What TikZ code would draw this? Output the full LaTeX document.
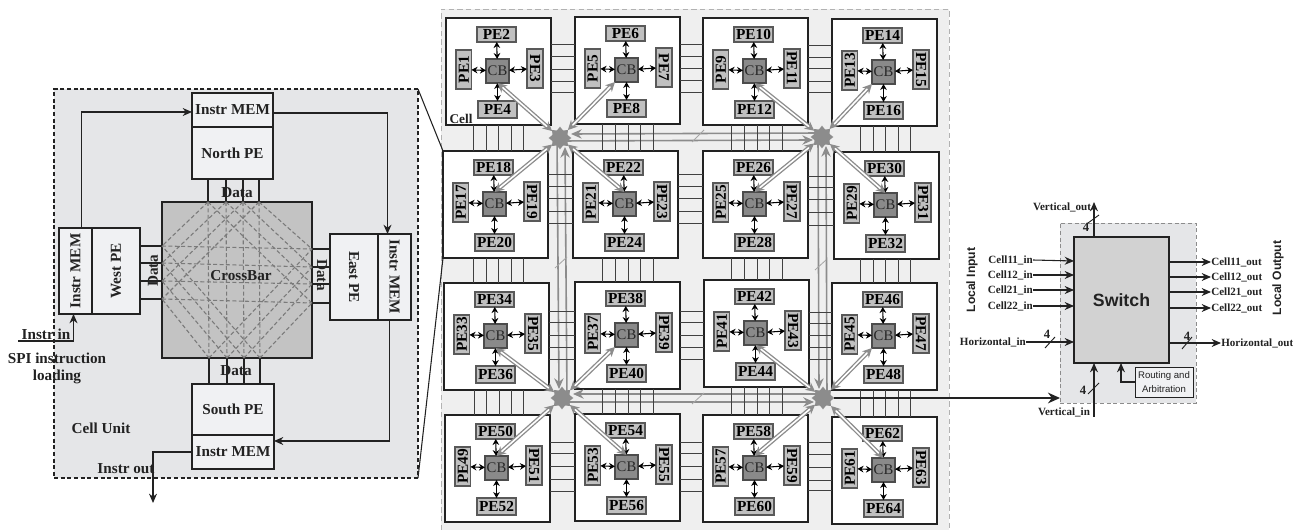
\documentclass[tikz,border=0pt]{standalone}
\usepackage{graphicx}
\usepackage{fontspec}
\setmainfont{Liberation Serif}
\setsansfont{Liberation Sans}
\usetikzlibrary{arrows.meta,shapes.geometric}
\definecolor{ink}{HTML}{222222}
\definecolor{panelA}{HTML}{E5E6E8}
\definecolor{panelB}{HTML}{EFEFEF}
\definecolor{boxA}{HTML}{F0F1F3}
\definecolor{xbar}{HTML}{C3C3C3}
\definecolor{swbox}{HTML}{D2D2D2}
\definecolor{pegray}{HTML}{C0C0C0}
\definecolor{cbgray}{HTML}{8A8A8A}
\definecolor{busgray}{HTML}{8C8C8C}
\newcommand{\pxbox}[7][]{%
  \pgfmathsetmacro\bxw{((#5)-(#3))*0.75}\pgfmathsetmacro\bxh{((#6)-(#4))*0.75}%
  \node[minimum width=\bxw pt,minimum height=\bxh pt,inner sep=0pt,outer sep=0pt,#1] (#2) at ({((#3)+(#5))/2},{((#4)+(#6))/2}) {#7};}
\newcommand{\upr}[1]{\rotatebox{90}{#1}}
\newcommand{\dnr}[1]{\rotatebox{-90}{#1}}
\tikzset{
  bigbox/.style={draw=ink,line width=.8pt,fill=boxA,font=\fontsize{11.4}{13}\selectfont\bfseries,text=ink},
  biglabel/.style={font=\fontsize{11.4}{13}\selectfont\bfseries,text=ink,inner sep=0pt},
  smalllabel/.style={font=\fontsize{8.3}{10}\selectfont\bfseries,text=ink,inner sep=0pt},
  sanslabel/.style={font=\fontsize{9.1}{11}\selectfont\sffamily\bfseries,text=ink,inner sep=0pt},
  arr/.style={draw=ink,line width=.8pt,-{Stealth[length=7pt,width=6pt]}},
  wire/.style={draw=ink,line width=.9pt},
  xdash/.style={draw=black!52,line width=.8pt,dash pattern=on 3pt off 1.8pt},
  cellbox/.style={draw=ink,line width=.8pt,fill=white,minimum width=78.75pt,minimum height=80.25pt,inner sep=0pt,outer sep=0pt,anchor=north west},
  pebox/.style={draw=black!65,line width=.8pt,fill=pegray,inner sep=0pt,outer sep=0pt,text=black,font=\fontsize{11.5}{13}\selectfont\bfseries},
  cbbox/.style={draw=black!70,line width=.8pt,fill=cbgray,inner sep=0pt,outer sep=0pt,text=black!85,font=\fontsize{11}{13}\selectfont},
  pearrow/.style={draw=black,line width=.8pt,{Stealth[length=4.5pt,width=5pt]}-{Stealth[length=4.5pt,width=5pt]}},
  cellwire/.style={draw=black!75,line width=.75pt},
  hubnode/.style={star,star points=8,star point ratio=1.4,fill=busgray,draw=none,minimum size=17pt,inner sep=0pt,outer sep=0pt},
  diag/.style={draw=busgray,line width=1pt,double=white,double distance=1.2pt,{Stealth[length=7pt,width=7pt]}-{Stealth[length=7pt,width=7pt]}},
  bus/.style={draw=busgray,line width=1.2pt,-{Stealth[length=8pt,width=7pt]}},
  busslash/.style={draw=black!35,line width=.6pt},
  slashmark/.style={draw=ink,line width=.7pt}
}
\begin{document}
\begin{tikzpicture}[x=0.75pt,y=-0.75pt]
\path[use as bounding box] (0,0) rectangle (1293,530);
% ---------- outer mesh panel
\pxbox[fill=panelB]{outerpanel}{441}{9}{949}{530}{}
\draw[draw=black!30,line width=.7pt,dash pattern=on 4pt off 2.5pt] (outerpanel.south west) -- (outerpanel.north west) -- (outerpanel.north east) -- (outerpanel.south east);
% ---------- cells
\foreach \k/\cx/\cy in {0/446/18,1/575/17,2/703/18,3/832/19,
                        4/443/151,5/573/151,6/703/151,7/834/152,
                        8/444/283,9/575/282,10/704/280,11/832/283,
                        12/445/415,13/575/414,14/703/415,15/832/417}{
  \pgfmathtruncatemacro\pa{4*\k+1}\pgfmathtruncatemacro\pb{4*\k+2}
  \pgfmathtruncatemacro\pc{4*\k+3}\pgfmathtruncatemacro\pd{4*\k+4}
  \node[cellbox] (c\k) at (\cx,\cy) {};
  \pxbox[cbbox]{cb\k}{\cx+40}{\cy+41}{\cx+63}{\cy+65}{CB}
  \pxbox[pebox]{pe\pa}{\cx+10}{\cy+32}{\cx+25.5}{\cy+71}{\upr{PE\pa}}
  \pxbox[pebox]{pe\pb}{\cx+31}{\cy+9}{\cx+70}{\cy+24}{PE\pb}
  \pxbox[pebox]{pe\pc}{\cx+81}{\cy+31}{\cx+97}{\cy+70}{\dnr{PE\pc}}
  \pxbox[pebox]{pe\pd}{\cx+32}{\cy+83}{\cx+71}{\cy+100}{PE\pd}
  \draw[pearrow] (cb\k) -- (pe\pa);
  \draw[pearrow] (cb\k) -- (pe\pb);
  \draw[pearrow] (cb\k) -- (pe\pc);
  \draw[pearrow] (cb\k) -- (pe\pd);
}
\node[font=\fontsize{10}{12}\selectfont\bfseries,text=ink,inner sep=0pt] (celllabel) at (461,119) {Cell};
% ---------- hubs and buses
\node[hubnode] (hubA) at (560,138) {};
\node[hubnode] (hubB) at (822,137) {};
\node[hubnode] (hubC) at (562,398) {};
\node[hubnode] (hubD) at (823,398) {};
\draw[bus] ([shift={(0,-4)}]hubB.center) -- ([shift={(11,-4)}]hubA.center);
\draw[bus] ([shift={(0,3)}]hubA.center) -- ([shift={(-9,3)}]hubB.center);
\draw[bus] ([shift={(0,-4)}]hubD.center) -- ([shift={(11,-4)}]hubC.center);
\draw[bus] ([shift={(0,4)}]hubC.center) -- ([shift={(-9,4)}]hubD.center);
\draw[bus] ([shift={(-3,0)}]hubA.center) -- ([shift={(-3,-9)}]hubC.center);
\draw[bus] ([shift={(5,0)}]hubC.center) -- ([shift={(5,9)}]hubA.center);
\draw[bus] ([shift={(-4,0)}]hubB.center) -- ([shift={(-4,-9)}]hubD.center);
\draw[bus] ([shift={(4,0)}]hubD.center) -- ([shift={(4,9)}]hubB.center);
\coordinate (sl1a) at (692,142); \coordinate (sl1b) at (704,130);
\coordinate (sl2a) at (692,404); \coordinate (sl2b) at (704,393);
\coordinate (sl3a) at (555,268); \coordinate (sl3b) at (567,257);
\coordinate (sl4a) at (815,270); \coordinate (sl4b) at (826,260);
\draw[busslash] (sl1a) -- (sl1b);
\draw[busslash] (sl2a) -- (sl2b);
\draw[busslash] (sl3a) -- (sl3b);
\draw[busslash] (sl4a) -- (sl4b);
% ---------- wire bundles between cells: horizontal
\foreach \a/\b/\ya/\yb/\yc/\yd/\ye in {
  0/1/45/57/70/82/93, 1/2/45/57/69/81/93, 2/3/46/58/69/82/93,
  4/5/175/187/199/212/224, 5/6/175/187/199/212/224, 6/7/177/188/200/213/226,
  8/9/312/323/336/348/360, 9/10/312/323/336/348/360, 10/11/313/324/336/348/360,
  12/13/443/454/467/480/492, 13/14/443/454/467/480/492, 14/15/443/455/468/481/491}{
  \foreach \yy in {\ya,\yb,\yc,\yd,\ye}{
    \draw[cellwire] (c\a.east |- 0,\yy) -- (c\b.west |- 0,\yy);
  }
}
% ---------- wire bundles between cells: vertical
\foreach \a/\b/\xa/\xb/\xc/\xd/\xe in {
  0/4/473/486/498/511/523, 1/5/602/615/628/640/653, 2/6/731/744/757/769/782, 3/7/860/873/885/898/910,
  4/8/473/486/498/511/523, 5/9/602/615/628/640/653, 6/10/731/744/757/769/782, 7/11/860/873/885/898/910,
  8/12/474/486/499/511/523, 9/13/602/615/628/640/653, 10/14/731/744/757/769/782, 11/15/860/873/885/898/910}{
  \foreach \xx in {\xa,\xb,\xc,\xd,\xe}{
    \draw[cellwire] (c\a.south -| \xx,0) -- (c\b.north -| \xx,0);
  }
}
% ---------- diagonals
\draw[diag] (hubA) -- (cb0.south);
\draw[diag] (hubA) -- (cb1.south west);
\draw[diag] (hubA) -- (cb4.north);
\draw[diag] (hubA) -- (cb5.north);
\draw[diag] (hubB) -- (cb2.south);
\draw[diag] (hubB) -- (cb3.south west);
\draw[diag] (hubB) -- (cb6.north);
\draw[diag] (hubB) -- (cb7.north);
\draw[diag] (hubC) -- (cb8.south);
\draw[diag] (hubC) -- (cb9.south west);
\draw[diag] (hubC) -- (cb12.north);
\draw[diag] (hubC) -- (cb13.north);
\draw[diag] (hubD) -- (cb10.south);
\draw[diag] (hubD) -- (cb11.south west);
\draw[diag] (hubD) -- (cb14.north);
\draw[diag] (hubD) -- (cb15.north);
% ---------- left panel
\pxbox[fill=panelA,draw=ink,line width=.8pt,dash pattern=on 3pt off 2pt]{cellpanel}{54}{89}{418}{478}{}
\draw[draw=ink,line width=.8pt] (cellpanel.north east) -- (c4.north west);
\draw[draw=ink,line width=.8pt] (cellpanel.south east) -- (c4.south west);
\pxbox[bigbox]{northmem}{192}{93}{273}{127}{Instr MEM}
\pxbox[bigbox]{northpe}{192}{127}{273}{179}{North PE}
\pxbox[bigbox]{westmem}{59}{228}{92}{314}{\upr{Instr MEM}}
\pxbox[bigbox]{westpe}{92}{228}{140}{314}{\upr{West PE}}
\pxbox[bigbox]{eastpe}{330}{234}{378}{320}{\dnr{East PE}}
\pxbox[bigbox]{eastmem}{378}{234}{411}{320}{\dnr{Instr MEM}}
\pxbox[bigbox]{southpe}{192}{384}{274}{435}{South PE}
\pxbox[bigbox]{southmem}{192}{435}{274}{469}{Instr MEM}
\pxbox[fill=xbar,draw=ink,line width=.8pt]{crossbar}{162}{202}{312}{358}{}
% crossbar ports
\foreach \i/\x in {1/208,2/226,3/243,4/259}{\coordinate (N\i) at (crossbar.north -| \x,0);}
\foreach \i/\x in {1/209,2/227,3/244,4/260}{\coordinate (S\i) at (crossbar.south -| \x,0);}
\foreach \i/\y in {1/246,2/263,3/281,4/299}{\coordinate (W\i) at (crossbar.west |- 0,\y);}
\foreach \i/\y in {1/249,2/267,3/284,4/303}{\coordinate (E\i) at (crossbar.east |- 0,\y);}
\foreach \i in {1,2,3,4}{
  \pgfmathtruncatemacro\j{5-\i}
  \draw[wire] (N\i) -- (N\i |- northpe.south);
  \draw[wire] (S\i) -- (S\i |- southpe.north);
  \draw[wire] (W\i) -- (W\i -| westpe.east);
  \draw[wire] (E\i) -- (E\i -| eastpe.west);
  \draw[xdash] (N\i) -- (S\i);
  \draw[xdash] (W\i) -- (E\i);
  \draw[xdash] (N\i) -- (W\i);
  \draw[xdash] (N\i) -- (E\j);
  \draw[xdash] (S\i) -- (W\j);
  \draw[xdash] (S\i) -- (E\i);
}
\node[biglabel] (crosslabel) at (241,276) {CrossBar};
\node[biglabel] (datan) at (237,193) {Data};
\node[biglabel] (datas) at (236,371) {Data};
\node[biglabel,rotate=90] (dataw) at (153,271) {Data};
\node[biglabel,rotate=-90] (datae) at (322,275) {Data};
\node[biglabel] (instrin) at (46,334) {Instr in};
\node[biglabel] (spi1) at (57,358) {SPI instruction};
\node[biglabel] (spi2) at (57,377) {loading};
\node[biglabel] (cellunit) at (101,428) {Cell Unit};
\node[biglabel] (instrout) at (126,469) {Instr out};
\coordinate (instrstart) at (18,341);
\coordinate (instrend) at (153,503);
\draw[arr] (instrstart) -| ([shift={(-2,0)}]westmem.south);
\draw[arr] ([shift={(6,0)}]westmem.north) |- ([shift={(0,2)}]northmem.west);
\draw[arr] ([shift={(0,3)}]northmem.east) -| ([shift={(-7,0)}]eastmem.north);
\draw[arr] ([shift={(-5,0)}]eastmem.south) |- ([shift={(0,-11)}]southmem.east);
\draw[arr,line width=1pt] ([shift={(0,0)}]southmem.west) -| (instrend);
% ---------- switch panel
\pxbox[fill=panelA,draw=black!45,line width=.7pt,dash pattern=on 3pt off 2pt]{swpanel}{1060}{223}{1196}{403}{}
\pxbox[fill=swbox,draw=ink,line width=.9pt,font=\fontsize{13.3}{15}\selectfont\sffamily\bfseries,text=ink]{switch}{1074}{237}{1169}{363}{Switch}
\pxbox[fill=boxA,draw=ink,line width=.7pt,align=center,font=\fontsize{7.2}{10}\selectfont\sffamily,text=ink]{routing}{1135}{367}{1193}{397}{Routing and\\Arbitration}
\draw[arr] (routing.west) -| (switch.south -| 1121,0);
\foreach \t/\y/\ly in {Cell11/261/260,Cell12/275/275,Cell21/290/290,Cell22/306/306}{
  \node[smalllabel,anchor=east] (\t in) at (1033,\ly) {\t\_in};
  \draw[arr] (\t in.east) -- (switch.west |- 0,\y);
}
\foreach \t/\y in {Cell11/262,Cell12/277,Cell21/292,Cell22/308}{
  \node[smalllabel,anchor=west] (\t out) at (1211,\y) {\t\_out};
  \draw[arr] (switch.east |- 0,\y) -- (\t out.west);
}
\node[sanslabel,rotate=90] (localin) at (972,280) {Local Input};
\node[sanslabel,rotate=90] (localout) at (1278,278) {Local Output};
\node[smalllabel,anchor=east] (horin) at (1026,342) {Horizontal\_in};
\node[smalllabel,anchor=west] (horout) at (1221,343) {Horizontal\_out};
\node[smalllabel] (vertout) at (1062,207) {Vertical\_out};
\node[smalllabel] (vertin) at (1064,412) {Vertical\_in};
\coordinate (voutend) at (1094,202);
\coordinate (vinstart) at (1094,417);
\draw[arr] (horin.east) -- (switch.west |- horin.east);
\draw[arr] (switch.east |- horout.west) -- (horout.west);
\draw[arr] (switch.north -| voutend) -- (voutend);
\draw[arr] (vinstart) -- (switch.south -| vinstart);
\foreach \n/\xa/\ya/\xb/\yb in {a/1045/348/1055/337,b/1182/349/1192/337,c/1088/223/1099/215,d/1088/394/1099/383}{
  \coordinate (sm\n1) at (\xa,\ya); \coordinate (sm\n2) at (\xb,\yb);
  \draw[slashmark] (sm\n1) -- (sm\n2);
}
\foreach \n/\x/\y in {a/1047/334,b/1187/336,c/1086/227,d/1083/390}{
  \node[font=\fontsize{9.5}{11}\selectfont\bfseries,text=ink,inner sep=0pt] (four\n) at (\x,\y) {4};
}
\draw[draw=ink,line width=1.5pt,-{Stealth[length=9pt,width=8pt]}] (hubD) -- (swpanel.west |- hubD);
\end{tikzpicture}
\end{document}
